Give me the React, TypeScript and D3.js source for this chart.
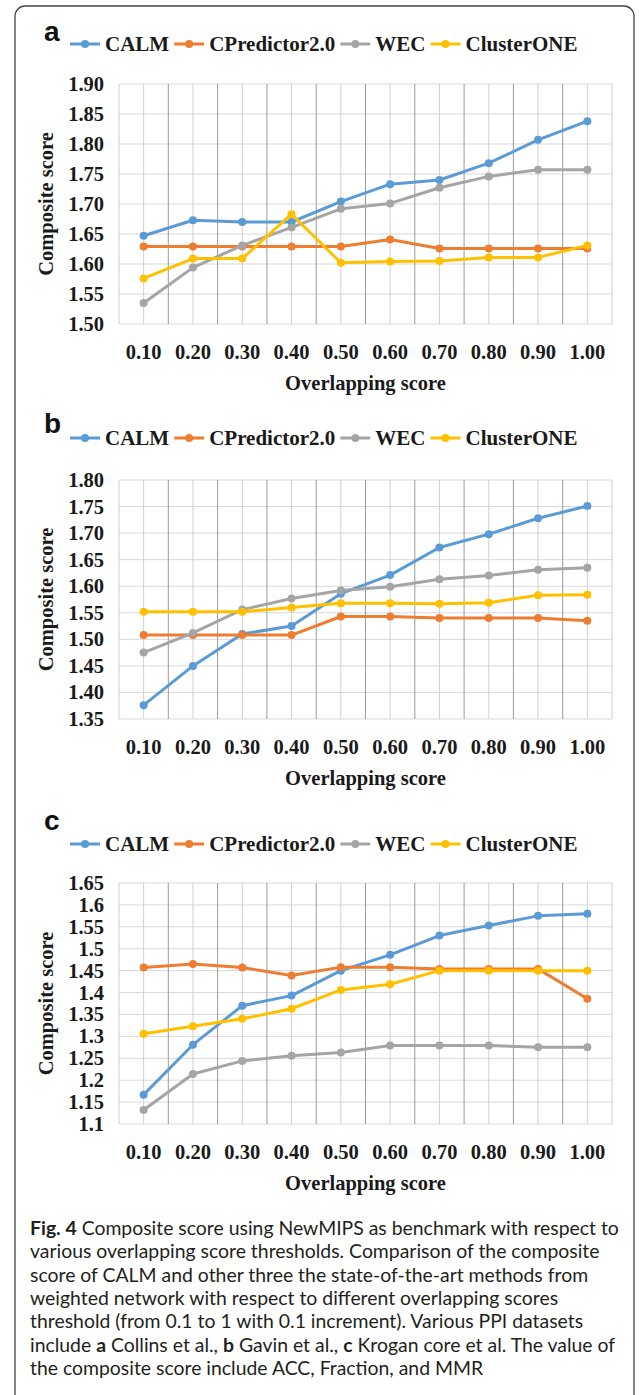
import React, { useEffect, useRef } from 'react';
import * as d3 from 'd3';

// x categories (overlapping score thresholds)
const thresholds = ['0.10', '0.20', '0.30', '0.40', '0.50', '0.60', '0.70', '0.80', '0.90', '1.00'];
const seriesNames = ['CALM', 'CPredictor2.0', 'WEC', 'ClusterONE'];
const seriesColors = ['#5b9bd5', '#ed7d31', '#a5a5a5', '#ffc000'];

// panel a - Collins
const calmA = [1.647, 1.673, 1.670, 1.670, 1.704, 1.733, 1.740, 1.768, 1.807, 1.838];
const cpredA = [1.629, 1.629, 1.629, 1.629, 1.629, 1.641, 1.626, 1.626, 1.626, 1.626];
const wecA = [1.535, 1.594, 1.631, 1.661, 1.692, 1.701, 1.727, 1.746, 1.757, 1.757];
const clusterA = [1.576, 1.609, 1.609, 1.683, 1.602, 1.604, 1.605, 1.611, 1.611, 1.631];
const yTicksA = ['1.50', '1.55', '1.60', '1.65', '1.70', '1.75', '1.80', '1.85', '1.90'];

// panel b - Gavin
const calmB = [1.376, 1.450, 1.510, 1.525, 1.586, 1.621, 1.673, 1.698, 1.728, 1.751];
const cpredB = [1.508, 1.508, 1.508, 1.508, 1.543, 1.543, 1.540, 1.540, 1.540, 1.535];
const wecB = [1.475, 1.512, 1.556, 1.577, 1.592, 1.599, 1.613, 1.620, 1.631, 1.635];
const clusterB = [1.552, 1.552, 1.552, 1.560, 1.568, 1.568, 1.567, 1.569, 1.583, 1.584];
const yTicksB = ['1.35', '1.40', '1.45', '1.50', '1.55', '1.60', '1.65', '1.70', '1.75', '1.80'];

// panel c - Krogan core
const calmC = [1.167, 1.281, 1.370, 1.393, 1.450, 1.486, 1.530, 1.553, 1.575, 1.580];
const cpredC = [1.457, 1.465, 1.457, 1.439, 1.458, 1.458, 1.454, 1.454, 1.454, 1.386];
const wecC = [1.132, 1.214, 1.244, 1.256, 1.263, 1.279, 1.279, 1.279, 1.275, 1.275];
const clusterC = [1.306, 1.323, 1.340, 1.363, 1.406, 1.419, 1.450, 1.450, 1.450, 1.450];
const yTicksC = ['1.1', '1.15', '1.2', '1.25', '1.3', '1.35', '1.4', '1.45', '1.5', '1.55', '1.6', '1.65'];

const panels = [
  { id: 'a', series: [calmA, cpredA, wecA, clusterA], ticks: yTicksA, top: 84, bottom: 324, labelY: 41, legendY: 44 },
  { id: 'b', series: [calmB, cpredB, wecB, clusterB], ticks: yTicksB, top: 480, bottom: 719, labelY: 433, legendY: 438 },
  { id: 'c', series: [calmC, cpredC, wecC, clusterC], ticks: yTicksC, top: 883, bottom: 1124, labelY: 830, legendY: 844 },
];

const captionLines: [string, boolean][][] = [
  [['Fig. 4', true], [' Composite score using NewMIPS as benchmark with respect to', false]],
  [['various overlapping score thresholds. Comparison of the composite', false]],
  [['score of CALM and other three the state-of-the-art methods from', false]],
  [['weighted network with respect to different overlapping scores', false]],
  [['threshold (from 0.1 to 1 with 0.1 increment). Various PPI datasets', false]],
  [['include ', false], ['a', true], [' Collins et al., ', false], ['b', true], [' Gavin et al., ', false], ['c', true], [' Krogan core et al. The value of', false]],
  [['the composite score include ACC, Fraction, and MMR', false]],
];

const W = 639;
const H = 1395;
const serif = '"Liberation Serif", "Times New Roman", serif';

const App: React.FC = () => {
  const svgRef = useRef<SVGSVGElement>(null);

  useEffect(() => {
    if (!svgRef.current) return;
    const svg = d3.select(svgRef.current);
    svg.selectAll('*').remove();

    svg.append('rect').attr('width', W).attr('height', H).attr('fill', '#fff');
    // outer frame
    svg.append('rect')
      .attr('x', 15).attr('y', 6).attr('width', 619).attr('height', H + 20)
      .attr('rx', 10).attr('fill', 'none').attr('stroke', '#444').attr('stroke-width', 1.3);

    const left = 119;
    const right = 612;
    const x = d3.scaleBand().domain(thresholds).range([left, right]);
    const bw = x.bandwidth();
    const cx = (d: string) => (x(d) as number) + bw / 2;

    panels.forEach(p => {
      const vals = p.ticks.map(Number);
      const y = d3.scaleLinear().domain([vals[0], vals[vals.length - 1]]).range([p.bottom, p.top]);
      const g = svg.append('g');

      // horizontal grid
      g.selectAll('.hg').data(vals).enter().append('line')
        .attr('x1', left).attr('x2', right)
        .attr('y1', d => y(d)).attr('y2', d => y(d))
        .attr('stroke', '#d9d9d9').attr('stroke-width', 1);
      // vertical grid: category centres (light) and boundaries (darker)
      g.selectAll('.vc').data(thresholds).enter().append('line')
        .attr('x1', d => cx(d)).attr('x2', d => cx(d))
        .attr('y1', p.top).attr('y2', p.bottom)
        .attr('stroke', '#d0d0d0').attr('stroke-width', 1);
      const bounds = d3.range(thresholds.length + 1);
      g.selectAll('.vb').data(bounds).enter().append('line')
        .attr('x1', i => left + i * bw).attr('x2', i => left + i * bw)
        .attr('y1', p.top).attr('y2', p.bottom)
        .attr('stroke', i => (i === 0 || i === thresholds.length ? '#d0d0d0' : '#9a9a9a'))
        .attr('stroke-width', 1);

      // y tick labels
      g.selectAll('.yt').data(p.ticks).enter().append('text')
        .attr('x', 104).attr('y', d => y(+d) + 7)
        .attr('text-anchor', 'end')
        .attr('font-family', serif).attr('font-weight', 700).attr('font-size', 20.5)
        .attr('fill', '#1a1a1a')
        .text(d => d);

      // x tick labels
      g.selectAll('.xt').data(thresholds).enter().append('text')
        .attr('x', d => cx(d)).attr('y', p.bottom + 35)
        .attr('text-anchor', 'middle')
        .attr('font-family', serif).attr('font-weight', 700).attr('font-size', 20.5)
        .attr('fill', '#1a1a1a')
        .text(d => d);

      // axis titles
      g.append('text')
        .attr('x', (left + right) / 2).attr('y', p.bottom + 66)
        .attr('text-anchor', 'middle')
        .attr('font-family', serif).attr('font-weight', 700).attr('font-size', 20.5)
        .attr('fill', '#1a1a1a')
        .text('Overlapping score');
      g.append('text')
        .attr('transform', `translate(53, ${(p.top + p.bottom) / 2}) rotate(-90)`)
        .attr('text-anchor', 'middle')
        .attr('font-family', serif).attr('font-weight', 700).attr('font-size', 20.5)
        .attr('fill', '#1a1a1a')
        .text('Composite score');

      // series lines + markers
      const line = d3.line<number>().x((_, i) => cx(thresholds[i])).y(d => y(d));
      p.series.forEach((s, si) => {
        g.append('path').datum(s)
          .attr('fill', 'none').attr('stroke', seriesColors[si])
          .attr('stroke-width', 3).attr('stroke-linejoin', 'round')
          .attr('d', line);
        g.selectAll(`.m${si}`).data(s).enter().append('circle')
          .attr('cx', (_, i) => cx(thresholds[i])).attr('cy', d => y(d))
          .attr('r', 4).attr('fill', seriesColors[si]);
      });

      // panel letter
      svg.append('text')
        .attr('x', 44).attr('y', p.labelY)
        .attr('font-family', '"Liberation Sans", Arial, sans-serif')
        .attr('font-weight', 700).attr('font-size', 28).attr('fill', '#111')
        .text(p.id);

      // legend
      let lx = 70;
      seriesNames.forEach((name, si) => {
        const lg = svg.append('g');
        lg.append('line')
          .attr('x1', lx).attr('x2', lx + 30).attr('y1', p.legendY).attr('y2', p.legendY)
          .attr('stroke', seriesColors[si]).attr('stroke-width', 3);
        lg.append('circle').attr('cx', lx + 15).attr('cy', p.legendY).attr('r', 4).attr('fill', seriesColors[si]);
        const t = lg.append('text')
          .attr('x', lx + 35).attr('y', p.legendY + 7)
          .attr('font-family', serif).attr('font-weight', 700).attr('font-size', 21)
          .attr('fill', '#1a1a1a')
          .text(name);
        const tw = (t.node() as SVGTextElement).getComputedTextLength();
        lx += 35 + tw + 5;
      });
    });

    // caption
    const cap = svg.append('g')
      .attr('font-family', 'Lato, "Open Sans", sans-serif')
      .attr('font-size', 19.4).attr('fill', '#231f20');
    captionLines.forEach((parts, li) => {
      const t = cap.append('text').attr('x', 30).attr('y', 1235 + li * 23.3);
      parts.forEach(([s, bold]) => {
        t.append('tspan').attr('font-weight', bold ? 700 : 400).text(s);
      });
    });
  }, []);

  return (
    <svg
      ref={svgRef}
      width={W}
      height={H}
      viewBox={`0 0 ${W} ${H}`}
      style={{ position: 'absolute', left: 0, top: 0 }}
    />
  );
};

export default App;
